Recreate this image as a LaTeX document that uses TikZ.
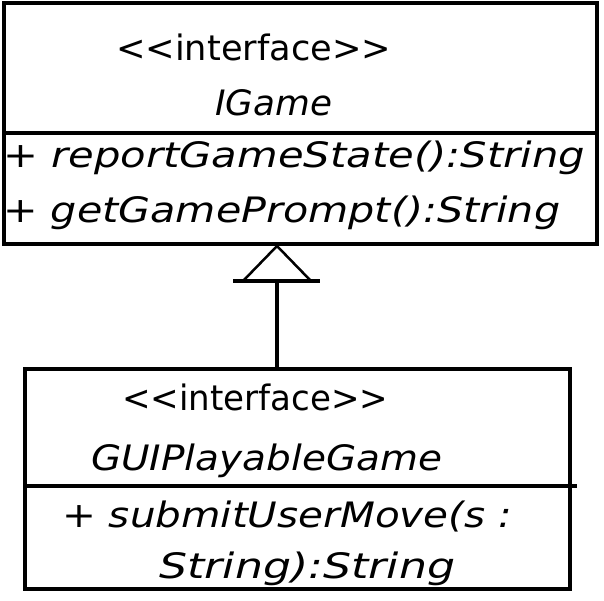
\documentclass[tikz,border=0pt]{standalone}
\usepackage{fontspec}
\setmainfont{DejaVu Sans}
\usepackage{graphicx}
\newcommand{\fitw}[2]{\resizebox{#1pt}{\height}{#2}}
\begin{document}
\begin{tikzpicture}[x=1pt,y=-1pt,
  umlbox/.style={draw=black,line width=4pt,inner sep=0pt,fill=white},
  umltext/.style={anchor=base west,inner sep=0pt,font=\fontsize{35}{40}\selectfont},
  rule/.style={line width=4pt},
  thinrule/.style={line width=2.5pt}]
\useasboundingbox (0,0) rectangle (604,600);
\fill[white] (0,0) rectangle (604,600);
% boxes
\node[umlbox,minimum width=593pt,minimum height=241pt] (igame) at (300.5,123.5) {};
\node[umlbox,minimum width=545pt,minimum height=220pt] (gui) at (297.5,479) {};
% dividers
\coordinate (d1l) at (4,133);
\coordinate (d1r) at (597,133);
\draw[rule] (d1l) -- (d1r);
\coordinate (d2l) at (25,486);
\coordinate (d2r) at (577,486);
\draw[rule] (d2l) -- (d2r);
% texts
\node[umltext] (t1) at (116,60) {\fitw{275}{<\kern0pt<interface>\kern0pt>}};
\node[umltext] (t2) at (215,115) {\fitw{117}{\itshape IGame}};
\node[umltext] (t3) at (3,167) {\fitw{582}{\itshape + reportGameState():String}};
\node[umltext] (t4) at (3,222) {\fitw{557}{\itshape + getGamePrompt():String}};
\node[umltext] (u1) at (122,410) {\fitw{266}{<\kern0pt<interface>\kern0pt>}};
\node[umltext] (u2) at (91,470) {\fitw{351}{\itshape GUIPlayableGame}};
\node[umltext] (u3) at (62,527) {\fitw{450}{\itshape + submitUserMove(s :}};
\node[umltext] (u4) at (159,578) {\fitw{296}{\itshape String):String}};
% generalization
\coordinate (tip) at (277,246);
\coordinate (tl) at (243,281);
\coordinate (tr) at (311,281);
\coordinate (bl) at (233,281);
\coordinate (br) at (320,281);
\coordinate (bm) at (277,281);
\draw[thinrule,line join=miter] (tl) -- (tip) -- (tr);
\draw[rule] (bl) -- (br);
\draw[rule] (bm) -- (bm |- gui.north);
\end{tikzpicture}
\end{document}
